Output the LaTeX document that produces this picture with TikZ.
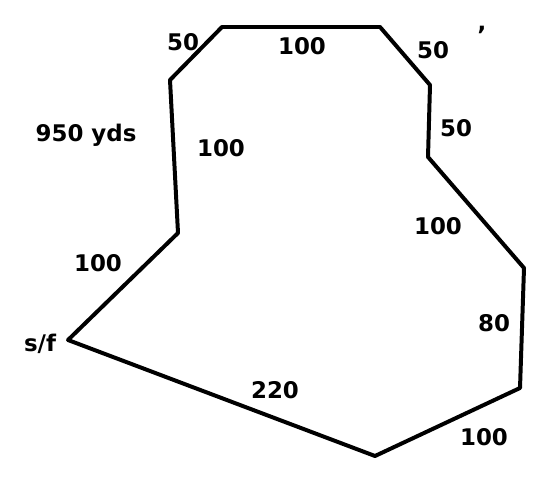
\documentclass[tikz,border=0pt]{standalone}
\usepackage{fontspec}
\setmainfont{DejaVu Sans}
\begin{document}
\begin{tikzpicture}[x=1bp,y=-1bp,
  lbl/.style={font=\bfseries\fontsize{23}{25}\selectfont, inner sep=0pt},
  edge/.style={line width=4pt, line join=round, line cap=round}]
\useasboundingbox[fill=white] (0,0) rectangle (542,480);
\coordinate (A) at (222,27);
\coordinate (B) at (380,27);
\coordinate (C) at (430,85);
\coordinate (D) at (428,157);
\coordinate (E) at (524,268);
\coordinate (F) at (520,388);
\coordinate (G) at (375,456);
\coordinate (H) at (68,340);
\coordinate (I) at (178,233);
\coordinate (J) at (170,80);
\draw[edge] (A) -- (B) -- (C) -- (D) -- (E) -- (F) -- (G) -- (H) -- (I) -- (J) -- cycle;
\node[lbl] (l1) at (183,42) {50};
\node[lbl] (l2) at (302,46) {100};
\node[lbl] (l3) at (433,50) {50};
\node[lbl] (l4) at (482,30) {,};
\node[lbl] (l5) at (456,128) {50};
\node[lbl] (l6) at (86,135) {950 yds};
\node[lbl] (l7) at (221,148) {100};
\node[lbl] (l8) at (438,226) {100};
\node[lbl] (l9) at (98,263) {100};
\node[lbl] (l10) at (494,323) {80};
\node[lbl] (l11) at (40,344) {s/f};
\node[lbl] (l12) at (275,390) {220};
\node[lbl] (l13) at (484,437) {100};
\end{tikzpicture}
\end{document}
